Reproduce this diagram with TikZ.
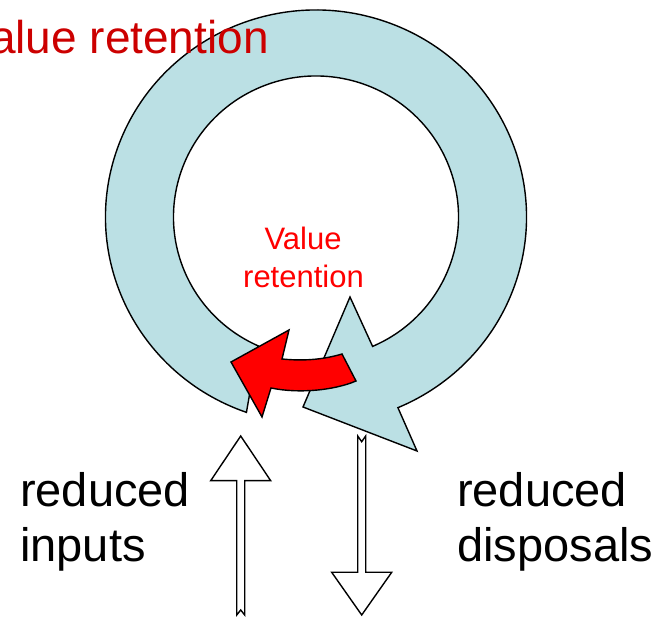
\documentclass[tikz,border=0pt]{standalone}
\usepackage{fontspec}
\setmainfont{Liberation Sans}
\usetikzlibrary{calc}
\definecolor{ringblue}{RGB}{187,224,228}
\definecolor{darkred}{RGB}{204,0,0}
\definecolor{brightred}{RGB}{255,0,0}
\begin{document}
\begin{tikzpicture}[x=1pt,y=1pt,
  shapeline/.style={draw=black,line width=1.4pt,line join=miter},
  bigtext/.style={font=\fontsize{47}{55}\selectfont,inner sep=0pt},
  smalltext/.style={font=\fontsize{31}{38}\selectfont,inner sep=0pt,text=brightred}]
\useasboundingbox (0,0) rectangle (660,617);
\clip (0,0) rectangle (660,617);
\coordinate (c) at (316,400);
% circular arrow
\draw[shapeline,fill=ringblue]
  ([shift={(250.7:210.5pt and 207pt)}]c)
  arc[start angle=250.7,end angle=-67.1,x radius=210.5pt,y radius=207pt]
  -- (417,166) -- (303,210) -- (350,320)
  -- ([shift={(-66.6:142.5pt and 141pt)}]c)
  arc[start angle=-66.6,end angle=246.0,x radius=142.5pt,y radius=141pt]
  -- cycle;
% top label
\node[bigtext,font=\fontsize{46}{55}\selectfont,text=darkred,anchor=base east] (toplabel) at (269,563.7) {Value retention};
% small label
\node[smalltext,anchor=base] (small1) at (303,367) {Value};
\node[smalltext,anchor=base] (small2) at (303.5,329) {retention};
% red curved arrow
\draw[shapeline,fill=brightred]
  (231,255) -- (289,287) -- (282,258)
  .. controls (302,256) and (322,257) .. (342,263)
  -- (356,236)
  .. controls (335,227) and (300,223) .. (271,229)
  -- (262,200) -- cycle;
% up arrow (reduced inputs)
\draw[shapeline,fill=white]
  (240.7,181) -- (270.7,136.3) -- (244.7,136.3) -- (244.7,2)
  -- (240.7,7) -- (236.7,2) -- (236.7,136.3) -- (210.7,136.3) -- cycle;
% down arrow (reduced disposals)
\draw[shapeline,fill=white]
  (361.7,2) -- (391.7,44.7) -- (365.7,44.7) -- (365.7,181)
  -- (361.7,175.3) -- (357.7,181) -- (357.7,44.7) -- (331.7,44.7) -- cycle;
% bottom labels
\node[bigtext,anchor=base west] (in1) at (20,110) {reduced};
\node[bigtext,anchor=base west] (in2) at (20,55) {inputs};
\node[bigtext,anchor=base west] (out1) at (457,110) {reduced};
\node[bigtext,anchor=base west] (out2) at (457,55) {disposals};
\end{tikzpicture}
\end{document}
